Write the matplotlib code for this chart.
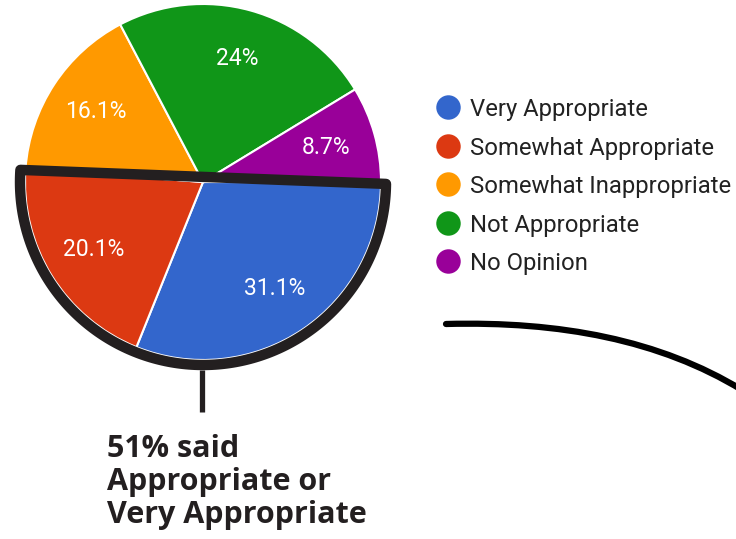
import matplotlib.pyplot as plt
from matplotlib.path import Path
from matplotlib.patches import PathPatch
import numpy as np

categories = ["Very Appropriate", "Somewhat Appropriate", "Somewhat Inappropriate",
              "Not Appropriate", "No Opinion"]
shares = [31.1, 20.1, 16.1, 24, 8.7]
colors = ["#3366cc", "#dc3912", "#ff9900", "#109618", "#990099"]
callout = "51% said\nAppropriate or\nVery Appropriate"

W, H = 736, 539
fig = plt.figure(figsize=(W / 100, H / 100), dpi=100)
ax = fig.add_axes([0, 0, 1, 1])
ax.set_xlim(0, W)
ax.set_ylim(0, H)
ax.set_aspect("equal")
ax.axis("off")

cx, cy, r = 203, H - 182, 178


def fmt(p):
    s = f"{p:.1f}".rstrip("0").rstrip(".")
    return s + "%"


wedges, _, pcts = ax.pie(shares, colors=colors, startangle=0, counterclock=False,
                         center=(cx, cy), radius=r, autopct=fmt, pctdistance=0.72,
                         wedgeprops=dict(edgecolor="white", linewidth=1.5),
                         textprops=dict(color="white", fontsize=16.5,
                                        family="Roboto"))
ax.set_xlim(0, W)
ax.set_ylim(0, H)

# highlight around the two "appropriate" slices
ink = "#231f20"
ro = r + 5
a1, a2 = np.radians(-0.6), np.radians(-183.8)
ang = np.linspace(a1, a2, 200)
pts = np.column_stack([cx + ro * np.cos(ang), cy + ro * np.sin(ang)])
pts = np.vstack([pts, pts[:1]])
codes = [Path.MOVETO] + [Path.LINETO] * (len(pts) - 2) + [Path.CLOSEPOLY]
ax.add_patch(PathPatch(Path(pts, codes), facecolor="none", edgecolor=ink,
                       linewidth=7.5, joinstyle="round", zorder=5))

# pointer down to the callout text
ax.plot([202, 202], [H - 370, H - 412], color=ink, linewidth=3.8,
        solid_capstyle="butt", zorder=5)
ax.text(107, H - 434, callout, fontsize=22, fontweight="bold", color=ink,
        family="Open Sans", va="top", ha="left", linespacing=1.13)

# swoosh on the right
verts = [(446, H - 324), (560, H - 321), (660, H - 340), (742, H - 390)]
ax.add_patch(PathPatch(Path(verts, [Path.MOVETO, Path.CURVE4, Path.CURVE4, Path.CURVE4]),
                       facecolor="none", edgecolor="black", linewidth=4.5,
                       capstyle="round"))

# legend
for i, (lab, col) in enumerate(zip(categories, colors)):
    y = H - (107 + i * 38.6)
    ax.scatter(448, y, s=310, color=col, linewidths=0)
    ax.text(470, y, lab, fontsize=17.2, color="#222222", va="center_baseline",
            family="Roboto")

fig.savefig("out.png", dpi=100)
